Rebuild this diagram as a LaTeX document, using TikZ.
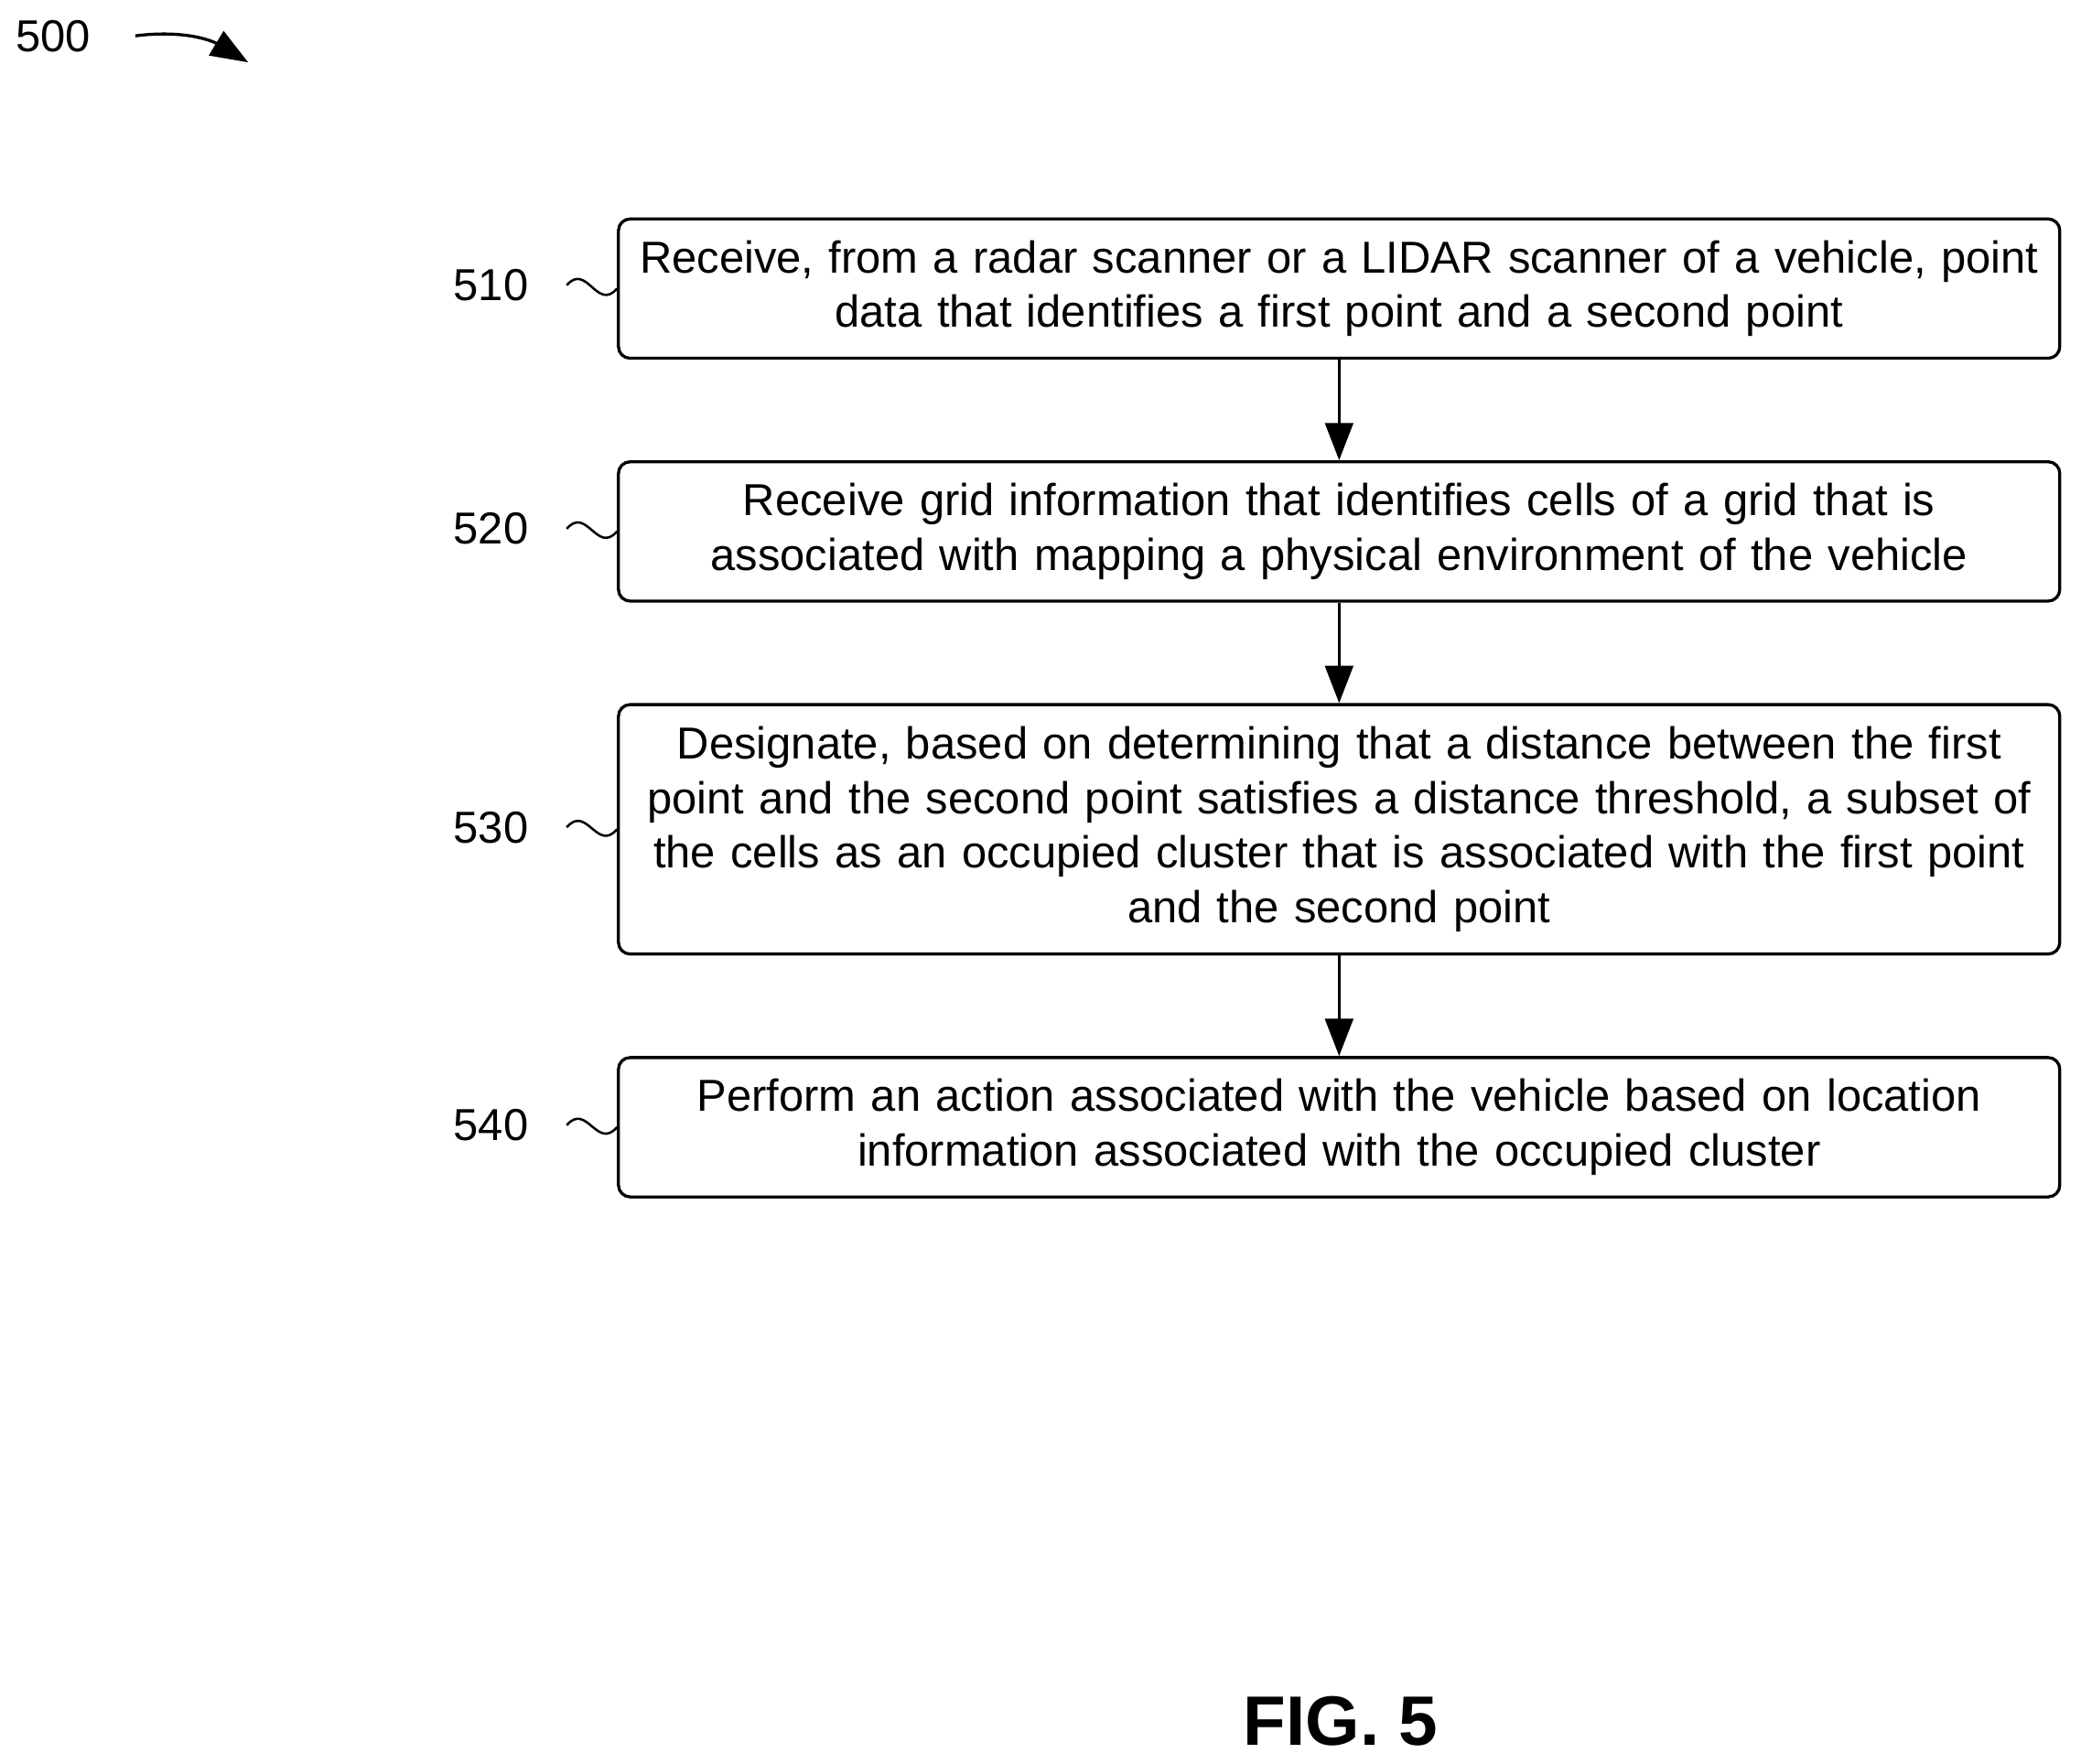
\documentclass[tikz,border=0pt]{standalone}
\usepackage{fontspec}
\setmainfont{Liberation Sans}
\usetikzlibrary{arrows.meta}
\begin{document}
\begin{tikzpicture}

\tikzstyle{stepbox}=[rectangle, draw, line width=1.3pt, rounded corners=5pt, minimum width=21.72cm, text width=21.6cm, inner xsep=1pt, align=center, font=\fontsize{19.2}{23.4}\selectfont]
\tikzstyle{tag}=[font=\fontsize{19.2}{23.4}\selectfont, inner sep=2pt]
\tikzstyle{arrow}=[-{Triangle[length=16pt,width=12pt]}, line width=1.3pt]
\tikzstyle{squiggle}=[line width=1pt]

\useasboundingbox (0,0) rectangle (31.36,-26.58);

\node (B1) [stepbox, minimum height=2.1cm] at (20.18,-4.35)
  {Receive, from a radar scanner or a LIDAR scanner of a vehicle, point\\data that identifies a first point and a second point};
\node (B2) [stepbox, minimum height=2.1cm] at (20.18,-8.01)
  {Receive grid information that identifies cells of a grid that is\\associated with mapping a physical environment of the vehicle};
\node (B3) [stepbox, minimum height=3.76cm] at (20.18,-12.5)
  {Designate, based on determining that a distance between the first\\point and the second point satisfies a distance threshold, a subset of\\the cells as an occupied cluster that is associated with the first point\\and the second point};
\node (B4) [stepbox, minimum height=2.1cm] at (20.18,-16.99)
  {Perform an action associated with the vehicle based on location\\information associated with the occupied cluster};

\node (L1) [tag] at (7.4,-4.3) {510};
\node (L2) [tag] at (7.4,-7.97) {520};
\node (L3) [tag] at (7.4,-12.47) {530};
\node (L4) [tag] at (7.4,-16.96) {540};

\foreach \i in {1,...,4}{
  \draw [squiggle] ([xshift=0.5cm]L\i.east) .. controls +(0.3,0.35) and +(-0.3,-0.35) .. (B\i.west);
}

\draw [arrow] (B1) -- (B2);
\draw [arrow] (B2) -- (B3);
\draw [arrow] (B3) -- (B4);

\node (N) [tag] at (0.8,-0.54) {500};
\coordinate (E) at (3.74,-0.94);
\draw [arrow] ([xshift=0.6cm]N.east) .. controls +(0.8,0.1) and +(-0.5,0.3) .. (E);

\node (F) [font=\bfseries\fontsize{30}{36}\selectfont] at (20.2,-25.94) {FIG. 5};

\end{tikzpicture}
\end{document}
